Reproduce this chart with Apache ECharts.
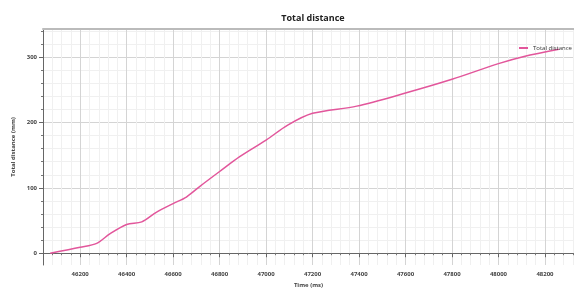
<!DOCTYPE html>
<html>
<head>
<meta charset="utf-8">
<script src="https://cdn.jsdelivr.net/npm/echarts@6/dist/echarts.min.js"></script>
<style>
  html, body { margin: 0; padding: 0; background: #fff; }
  #chart { width: 574px; height: 288px; }
</style>
</head>
<body>
<div id="chart"></div>
<script>
// time (ms) and total distance (mm)
var timeMs = [46071, 46200, 46271, 46329, 46400, 46465, 46529, 46600, 46657, 46714, 46800, 46888, 47000, 47093, 47200, 47390, 47600, 47800, 48000, 48110, 48260];
var distMm = [0, 9, 15, 30, 44, 48, 63, 76, 86, 102, 125, 148, 173, 196, 214, 225, 245, 266, 290, 301, 312];

var xMajor = [46200, 46400, 46600, 46800, 47000, 47200, 47400, 47600, 47800, 48000, 48200];
var yMajor = [0, 100, 200, 300];

var xMin = 46040, xMax = 48325;
var yMin = -18, yMax = 343;

function steps(from, to, step) {
  var out = [];
  for (var v = from; v <= to; v += step) out.push(v);
  return out;
}
var xMinor = steps(46080, 48320, 40);
var yMinor = steps(0, 340, 20);

var chart = echarts.init(document.getElementById('chart'));

var labelFont = { fontFamily: 'Open Sans', fontSize: 6, color: '#444', fontWeight: 'bold' };

var option = {
  animation: false,
  title: {
    text: 'Total distance',
    left: 308,
    textAlign: 'center',
    top: 9,
    textStyle: { fontFamily: 'Open Sans', fontSize: 9, fontWeight: 'bold', color: '#222' }
  },
  legend: {
    data: ['Total distance'],
    left: 514,
    top: 40,
    itemWidth: 9,
    itemHeight: 2,
    itemGap: 4,
    icon: 'rect',
    textStyle: { fontFamily: 'Open Sans', fontSize: 6, color: '#333' }
  },
  grid: { left: 43, right: 0, top: 29, bottom: 23, outerBoundsMode: 'none', containLabel: false },
  xAxis: [
    {
      type: 'value', min: xMin, max: xMax,
      name: 'Time (ms)', nameLocation: 'middle', nameGap: 17,
      nameTextStyle: labelFont,
      axisLine: { lineStyle: { color: '#666', width: 1 } },
      axisTick: { show: true, length: 2, customValues: xMinor, lineStyle: { color: '#777' } },
      axisLabel: {
        customValues: xMajor, margin: 6,
        fontFamily: 'Open Sans', fontSize: 6, color: '#444', fontWeight: 'bold',
        formatter: function (v) { return String(v); }
      },
      splitLine: { show: true, lineStyle: { color: '#f0f0f0', width: 1 } }
    },
    {
      type: 'value', min: xMin, max: xMax, position: 'bottom',
      axisLine: { show: false },
      axisTick: { show: true, length: 4, customValues: xMajor, lineStyle: { color: '#666' } },
      axisLabel: { show: false },
      splitLine: { show: true, lineStyle: { color: '#d4d4d4', width: 1 } }
    },
    {
      type: 'value', min: xMin, max: xMax, position: 'top',
      axisLine: { show: true, lineStyle: { color: '#bbb', width: 2 } },
      axisTick: { show: false }, axisLabel: { show: false }, splitLine: { show: false }
    }
  ],
  yAxis: [
    {
      type: 'value', min: yMin, max: yMax,
      name: 'Total distance (mm)', nameLocation: 'middle', nameGap: 27,
      nameTextStyle: labelFont,
      axisLine: { show: true, lineStyle: { color: '#666', width: 1 } },
      axisTick: { show: true, length: 2, customValues: yMinor, lineStyle: { color: '#777' } },
      axisLabel: { customValues: yMajor, margin: 6, fontFamily: 'Open Sans', fontSize: 6, color: '#444', fontWeight: 'bold' },
      splitLine: { show: true, lineStyle: { color: '#f0f0f0', width: 1 } }
    },
    {
      type: 'value', min: yMin, max: yMax, position: 'left',
      axisLine: { show: false },
      axisTick: { show: true, length: 4, customValues: yMajor, lineStyle: { color: '#666' } },
      axisLabel: { show: false },
      splitLine: { show: true, lineStyle: { color: '#d4d4d4', width: 1 } }
    }
  ],
  series: [
    {
      name: 'Total distance',
      type: 'line',
      xAxisIndex: 0,
      yAxisIndex: 0,
      data: timeMs.map(function (t, i) { return [t, distMm[i]]; }),
      smooth: 0.3,
      showSymbol: false,
      symbol: 'none',
      color: '#e2569b',
      lineStyle: { color: '#e2569b', width: 1.5 }
    }
  ]
};

chart.setOption(option);
</script>
</body>
</html>
